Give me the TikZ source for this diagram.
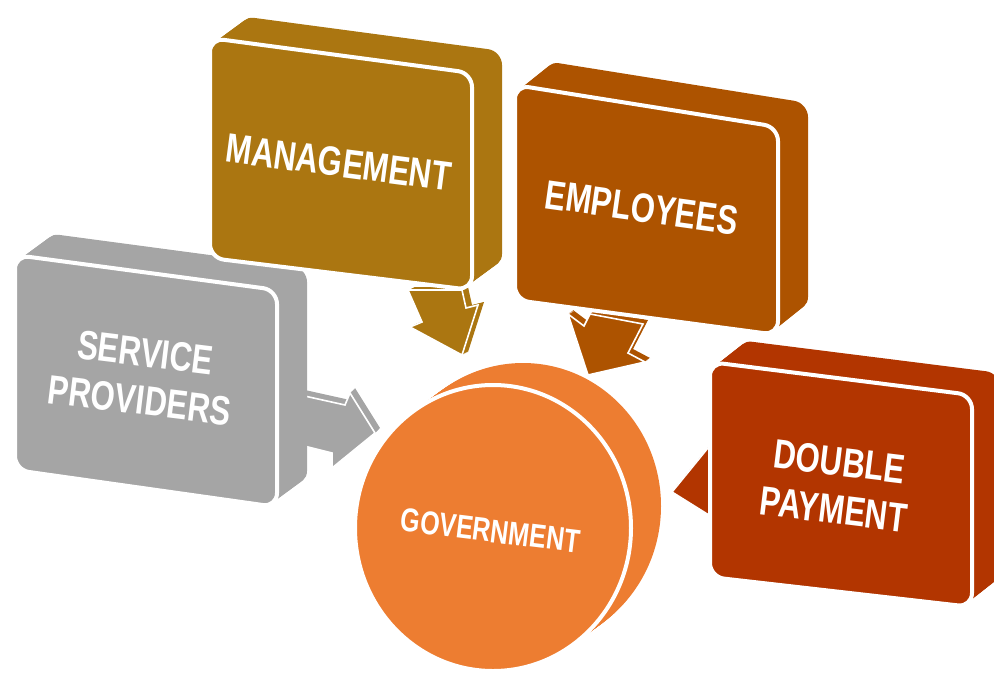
\documentclass[tikz,border=0pt]{standalone}
\usepackage{fontspec}
\usepackage{graphicx}
\setmainfont{Liberation Sans}
\definecolor{mgmt}{HTML}{AB7611}
\definecolor{empl}{HTML}{AD5300}
\definecolor{serv}{HTML}{A5A5A5}
\definecolor{dpay}{HTML}{B23500}
\definecolor{govt}{HTML}{ED7D31}
\tikzset{
  boxlabel/.style={text=white, inner sep=0pt,
    font=\bfseries\fontsize{41}{48}\selectfont},
  frontface/.style={draw=white, line width=4pt, rounded corners=14pt, line join=round},
  arrowface/.style={draw=white, line width=1.6pt, line join=miter},
}
% condensed label text, one or two lines
\newcommand\narrowtext[1]{\scalebox{0.76}[1]{\begin{tabular}{@{}c@{}}#1\end{tabular}}}
% extruded rounded slab: colour, four front corners, depth offset (dx,dy)
\newcommand\slab[7]{%
  \foreach \k in {0,...,24}{
    \fill[#1, rounded corners=14pt, shift={({#6*\k/24},{#7*\k/24})}]
      #2 -- #3 -- #4 -- #5 -- cycle;}
  \filldraw[fill=#1, frontface] #2 -- #3 -- #4 -- #5 -- cycle;
}
% extruded flat arrow: colour, outline, depth offset (dx,dy)
\newcommand\thickarrow[4]{%
  \foreach \k in {0,...,6}{
    \fill[#1, shift={({#3*\k/6},{#4*\k/6})}] #2 -- cycle;}
  \filldraw[fill=#1, arrowface] #2 -- cycle;
}
\begin{document}
\begin{tikzpicture}[x=1pt,y=-1pt]
\useasboundingbox (0,0) rectangle (994,673);
\clip (0,0) rectangle (994,673);

% arrows pointing to the central disc
\thickarrow{mgmt}{(408,290) -- (422,322) -- (410,327) -- (462,355) -- (478,305) -- (466,308) -- (462,290)}{6}{-3}
\thickarrow{empl}{(568,314) -- (584,326) -- (590,314) -- (643,324) -- (628,353) -- (645,362) -- (588,375)}{5}{-4}
\thickarrow{serv}{(300,395) -- (345,405) -- (350,393) -- (375,433) -- (332,468) -- (332,453) -- (300,445)}{5}{-5}
\thickarrow{dpay}{(712,443) -- (672,492) -- (712,517)}{4}{-5}

% central disc
\foreach \k in {0,...,24}{
  \fill[govt] ({493+30*\k/24},{528-22*\k/24}) ellipse [x radius=138, y radius=143];}
\filldraw[fill=govt, draw=white, line width=4pt] (493,528) ellipse [x radius=138, y radius=143];
\node[boxlabel, font=\bfseries\fontsize{33}{40}\selectfont, rotate=-7] (gov) at (490,534) {\narrowtext{GOVERNMENT}};

% surrounding slabs
\slab{dpay}{(710,362)}{(972,395)}{(972,607)}{(710,577)}{28}{-22}
\node[boxlabel, rotate=-7] (dp) at (836,490) {\narrowtext{DOUBLE\\PAYMENT}};

\slab{serv}{(15,255)}{(277,290)}{(277,507)}{(15,470)}{30}{-22}
\node[boxlabel, rotate=-7] (sp) at (142,381) {\narrowtext{SERVICE\\PROVIDERS}};

\slab{mgmt}{(210,38)}{(472,73)}{(472,290)}{(210,258)}{30}{-22}
\node[boxlabel, rotate=-7.5] (mg) at (338,167) {\narrowtext{MANAGEMENT}};

\slab{empl}{(515,85)}{(778,127)}{(778,335)}{(515,300)}{30}{-24}
\node[boxlabel, rotate=-8] (em) at (641,212) {\narrowtext{EMPLOYEES}};
\end{tikzpicture}
\end{document}
